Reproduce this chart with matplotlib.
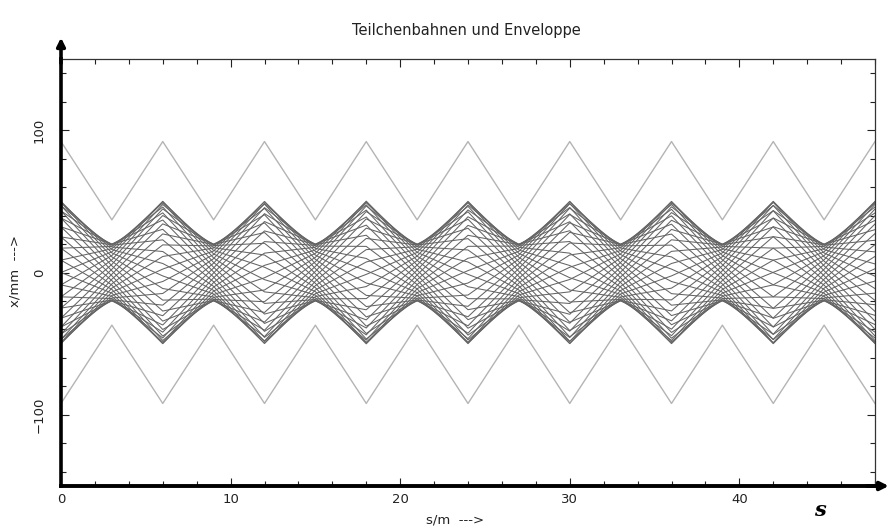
import matplotlib.pyplot as plt
import numpy as np

# lattice: thin quadrupoles every 3 m, F at 0, 6, 12 ... and D at 3, 9, 15 ...
s_nodes = [0, 3, 6, 9, 12, 15, 18, 21, 24, 27, 30, 33, 36, 39, 42, 45, 48]
half_cell = 3.0      # m
focal_length = 2.07  # m, |f| of each quad

# particle positions read at s = 0 m and s = 3 m (mm)
x_at_0 = [50.0, 49.2, 47.0, 43.3, 38.3, 32.1, 25.0, 17.1, 8.7, 0.0,
          -8.7, -17.1, -25.0, -32.1, -38.3, -43.3, -47.0, -49.2,
          -50.0, -49.2, -47.0, -43.3, -38.3, -32.1, -25.0, -17.1, -8.7, 0.0,
          8.7, 17.1, 25.0, 32.1, 38.3, 43.3, 47.0, 49.2]
x_at_3 = [13.8, 11.0, 8.0, 4.7, 1.2, -2.3, -5.7, -8.9, -11.9, -14.5,
          -16.7, -18.3, -19.4, -20.0, -19.9, -19.2, -17.9, -16.1,
          -13.8, -11.0, -8.0, -4.7, -1.2, 2.3, 5.7, 8.9, 11.9, 14.5,
          16.7, 18.3, 19.4, 20.0, 19.9, 19.2, 17.9, 16.1]

# outer envelope at the quadrupoles (mm)
outer_env = [92, 37, 92, 37, 92, 37, 92, 37, 92, 37, 92, 37, 92, 37, 92, 37, 92]


def track(xa, xb):
    """thin lens tracking node to node: x[n+1] = (2 - L/f_n) x[n] - x[n-1]"""
    xs = [xa, xb]
    for n in range(1, len(s_nodes) - 1):
        f_n = focal_length if n % 2 == 0 else -focal_length
        xs.append(xs[n] * (2 - half_cell / f_n) - xs[n - 1])
    return xs


fig = plt.figure(figsize=(8.88, 5.29), dpi=100)
ax = fig.add_axes([61 / 888, 1 - 486 / 529, 814 / 888, 427 / 529])

for xa, xb in zip(x_at_0, x_at_3):
    ax.plot(s_nodes, track(xa, xb), color='#646464', lw=0.75)

env = np.array(outer_env)
ax.plot(s_nodes, env, color='#b4b4b4', lw=1.0)
ax.plot(s_nodes, -env, color='#b4b4b4', lw=1.0)

ax.set_xlim(0, 48)
ax.set_ylim(-150, 150)
ax.set_xticks([0, 10, 20, 30, 40])
ax.set_xticks(np.arange(0, 49, 2), minor=True)
ax.set_yticks([-100, 0, 100])
ax.set_yticks(np.arange(-140, 150, 20), minor=True)

ax.tick_params(which='both', direction='in', top=True, right=True,
               width=0.8, color='#222222', labelsize=9.5, labelcolor='#222222')
ax.tick_params(which='major', length=6)
ax.tick_params(which='minor', length=3.5)
ax.tick_params(axis='x', pad=5)
ax.tick_params(axis='y', pad=11)
for lab in ax.get_yticklabels():
    lab.set_rotation(90)
    lab.set_va('center')

for side in ['top', 'right']:
    ax.spines[side].set_linewidth(0.9)
    ax.spines[side].set_color('#333333')
ax.spines['left'].set_linewidth(2.6)
ax.spines['bottom'].set_linewidth(2.8)

# axis arrows
ax.annotate('', xy=(0, 1.05), xytext=(0, 0.99), xycoords='axes fraction',
            arrowprops=dict(arrowstyle='-|>', lw=2.6, color='black',
                            mutation_scale=12, shrinkA=0, shrinkB=0),
            annotation_clip=False)
ax.annotate('', xy=(1.017, 0), xytext=(0.99, 0), xycoords='axes fraction',
            arrowprops=dict(arrowstyle='-|>', lw=2.8, color='black',
                            mutation_scale=12, shrinkA=0, shrinkB=0),
            annotation_clip=False)

fig.text(466 / 888, 1 - 30 / 529, 'Teilchenbahnen und Enveloppe',
         ha='center', va='center', fontsize=10.5, color='#222222')
fig.text(455 / 888, 1 - 520 / 529, 's/m  --->', ha='center', va='center',
         fontsize=9.5, color='#222222')
fig.text(15 / 888, 1 - 271 / 529, 'x/mm  --->', ha='center', va='center',
         rotation=90, fontsize=9.5, color='#222222')
fig.text(820 / 888, 1 - 510 / 529, 's', ha='center', va='center',
         fontsize=15, family='DejaVu Serif', style='italic', weight='bold')

fig.savefig('out.png', dpi=100)
